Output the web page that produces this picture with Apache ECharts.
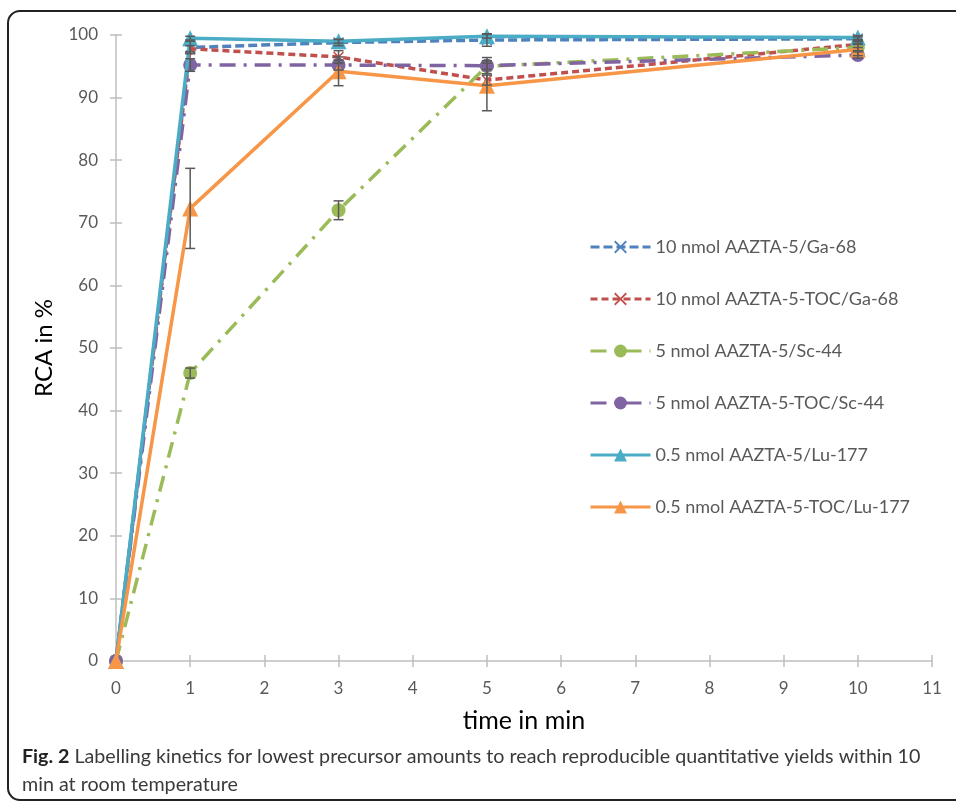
<!DOCTYPE html>
<html>
<head>
<meta charset="utf-8">
<script src="https://cdn.jsdelivr.net/npm/echarts@6/dist/echarts.min.js"></script>
<style>
  html, body { margin: 0; padding: 0; background: #fff; }
  #main { width: 956px; height: 802px; }
</style>
</head>
<body>
<div id="main"></div>
<script>
// time points (min)
var times = [0, 1, 3, 5, 10];

var seriesNames = [
    '10 nmol AAZTA-5/Ga-68',
    '10 nmol AAZTA-5-TOC/Ga-68',
    '5 nmol AAZTA-5/Sc-44',
    '5 nmol AAZTA-5-TOC/Sc-44',
    '0.5 nmol AAZTA-5/Lu-177',
    '0.5 nmol AAZTA-5-TOC/Lu-177'
];

// RCA in % per series
var gaAazta = [0, 98.0, 98.8, 99.2, 99.4];
var gaToc = [0, 97.8, 96.5, 92.8, 98.5];
var scAazta = [0, 46.0, 72.0, 95.0, 98.0];
var scToc = [0, 95.2, 95.2, 95.1, 96.8];
var luAazta = [0, 99.5, 99.0, 99.8, 99.6];
var luToc = [0, 72.3, 94.2, 91.9, 97.7];

// standard deviations (error bars)
var gaAaztaErr = [0, 1.0, 0.5, 1.0, 0.3];
var gaTocErr = [0, 0.5, 1.0, 0.8, 0.5];
var scAaztaErr = [0, 0.8, 1.5, 0.5, 0.5];
var scTocErr = [0, 1.0, 0.8, 1.3, 0.5];
var luAaztaErr = [0, 0.3, 0.3, 0.3, 0.3];
var luTocErr = [0, 6.4, 2.3, 4.0, 1.0];

var xTicks = [0, 1, 2, 3, 4, 5, 6, 7, 8, 9, 10, 11];

var values = [gaAazta, gaToc, scAazta, scToc, luAazta, luToc];
var errors = [gaAaztaErr, gaTocErr, scAaztaErr, scTocErr, luAaztaErr, luTocErr];
var colors = ['#4F81BD', '#C0504D', '#9BBB59', '#8064A2', '#4BACC6', '#F79646'];
var dashes = [[9, 4], [7, 4], [16, 8, 3, 8], [16, 8, 3, 8], 'solid', 'solid'];
var crossPath = 'path://M0,1 L1,0 L5,4 L9,0 L10,1 L6,5 L10,9 L9,10 L5,6 L1,10 L0,9 L4,5 Z';
var symbols = [crossPath, crossPath, 'circle', 'circle', 'triangle', 'triangle'];
var symbolSizes = [11, 11, 14, 14, 16, 16];

var font = 'Lato, "Open Sans", sans-serif';
var myChart = echarts.init(document.getElementById('main'));

var series = [];
values.forEach(function (v, i) {
    series.push({
        name: seriesNames[i],
        type: 'line',
        data: times.map(function (t, j) { return [t, v[j]]; }),
        symbol: symbols[i],
        symbolSize: symbolSizes[i],
        showAllSymbol: true,
        lineStyle: { color: colors[i], width: 3.5, type: dashes[i] },
        itemStyle: { color: colors[i] },
        z: 2 + i,
        animation: false
    });
});

// error bars
var errData = [];
values.forEach(function (v, i) {
    times.forEach(function (t, j) {
        if (errors[i][j] > 0) errData.push([t, v[j] - errors[i][j], v[j] + errors[i][j]]);
    });
});
series.push({
    type: 'custom',
    name: 'err',
    data: errData,
    z: 20,
    silent: true,
    animation: false,
    renderItem: function (params, api) {
        var lo = api.coord([api.value(0), api.value(1)]);
        var hi = api.coord([api.value(0), api.value(2)]);
        var w = 5;
        var st = { stroke: '#595959', lineWidth: 1.5 };
        return {
            type: 'group',
            children: [
                { type: 'line', shape: { x1: lo[0], y1: lo[1], x2: hi[0], y2: hi[1] }, style: st },
                { type: 'line', shape: { x1: lo[0] - w, y1: lo[1], x2: lo[0] + w, y2: lo[1] }, style: st },
                { type: 'line', shape: { x1: hi[0] - w, y1: hi[1], x2: hi[0] + w, y2: hi[1] }, style: st }
            ]
        };
    }
});

var option = {
    backgroundColor: '#fff',
    animation: false,
    textStyle: { fontFamily: font },
    grid: { left: 116, right: 24, top: 35, bottom: 141 },
    legend: {
        data: seriesNames,
        orient: 'vertical',
        left: 584,
        top: 233,
        itemWidth: 60,
        itemHeight: 16,
        itemGap: 34,
        lineStyle: { width: 3 },
        textStyle: { fontFamily: font, fontSize: 18, color: '#595959' }
    },
    xAxis: [{
        type: 'value', min: 0, max: 11, interval: 1,
        name: 'time in min', nameLocation: 'middle', nameGap: 47,
        nameTextStyle: { fontSize: 25, color: '#000', fontFamily: font },
        axisLine: { lineStyle: { color: '#BFBFBF', width: 1.5 } },
        axisTick: { show: true, length: 6, lineStyle: { color: '#BFBFBF', width: 1.5 } },
        axisLabel: { fontSize: 17, color: '#595959', margin: 19, fontFamily: font,
            formatter: function (v) { return xTicks.indexOf(v) >= 0 ? String(v) : ''; } },
        splitLine: { show: false }
    }, {
        type: 'value', min: 0, max: 11, interval: 1, position: 'bottom',
        axisLine: { show: false },
        axisTick: { show: true, inside: true, length: 6, lineStyle: { color: '#BFBFBF', width: 1.5 } },
        axisLabel: { show: false },
        splitLine: { show: false }
    }],
    yAxis: [{
        type: 'value', min: 0, max: 100, interval: 10,
        name: 'RCA in %', nameLocation: 'middle', nameGap: 60, nameRotate: 90,
        nameTextStyle: { fontSize: 24, color: '#000', fontFamily: font },
        axisLine: { show: true, lineStyle: { color: '#BFBFBF', width: 1.5 } },
        axisTick: { show: true, length: 6, lineStyle: { color: '#BFBFBF', width: 1.5 } },
        axisLabel: { fontSize: 17, color: '#595959', margin: 18, fontFamily: font },
        splitLine: { show: false }
    }, {
        type: 'value', min: 0, max: 100, interval: 10, position: 'left',
        axisLine: { show: false },
        axisTick: { show: true, inside: true, length: 6, lineStyle: { color: '#BFBFBF', width: 1.5 } },
        axisLabel: { show: false },
        splitLine: { show: false }
    }],
    graphic: [{
        type: 'rect',
        shape: { x: 8, y: 11, width: 980, height: 789, r: 12 },
        style: { fill: 'none', stroke: '#222', lineWidth: 2 },
        silent: true
    }, {
        type: 'text',
        left: 22,
        top: 743,
        style: {
            text: '{b|Fig. 2} Labelling kinetics for lowest precursor amounts to reach reproducible quantitative yields within 10\nmin at room temperature',
            fontFamily: font,
            fontSize: 19.7,
            lineHeight: 28,
            fill: '#3a3a3a',
            rich: { b: { fontWeight: 'bold', fontSize: 19.7, fill: '#222', fontFamily: font } }
        }
    }],
    series: series
};

myChart.setOption(option);
</script>
</body>
</html>
